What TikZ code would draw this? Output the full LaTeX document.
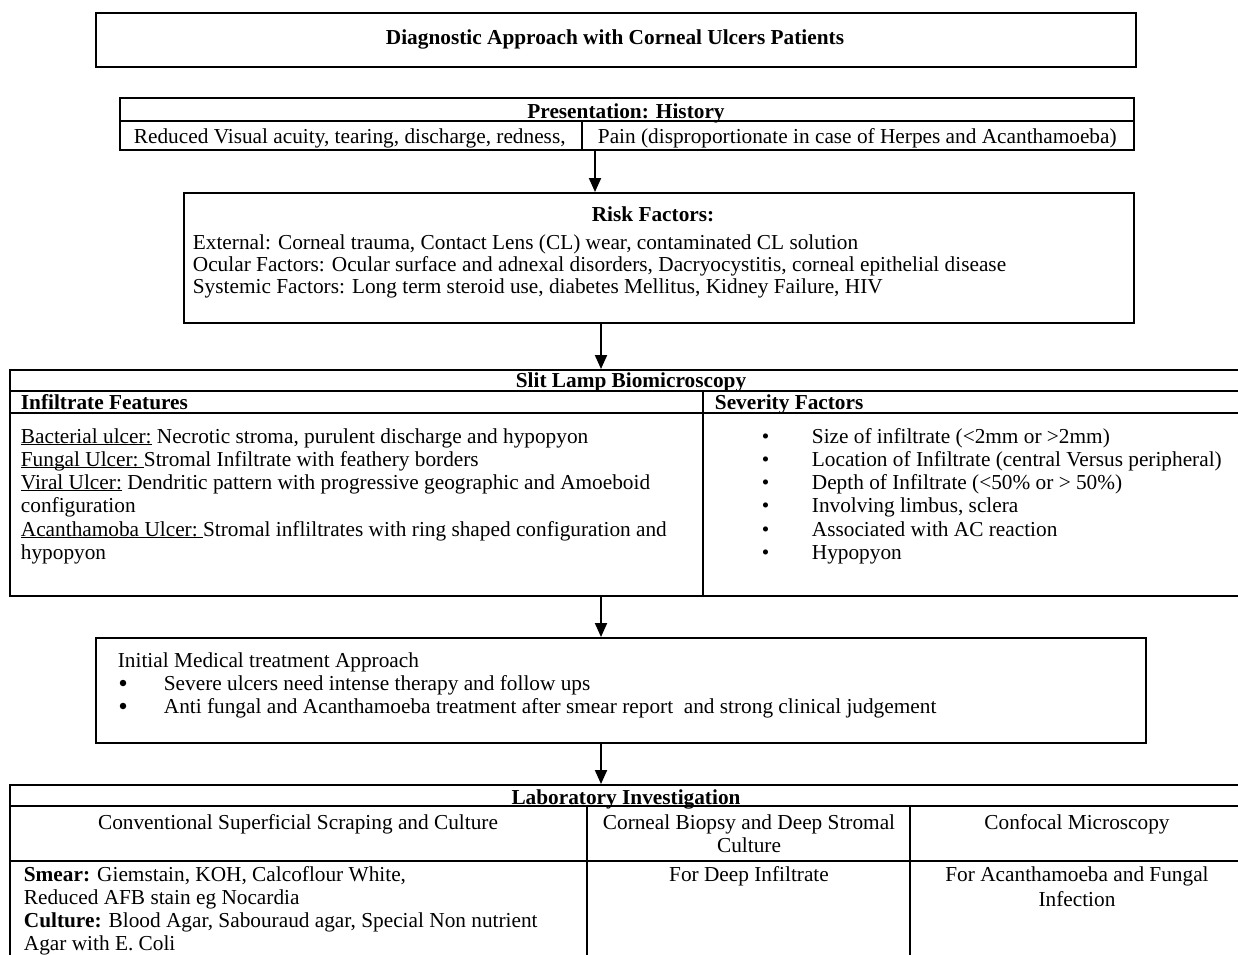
\documentclass[tikz,border=0pt]{standalone}
\usepackage{fontspec}
\setmainfont{Liberation Serif}
\usetikzlibrary{calc,positioning,arrows.meta}
\newcommand{\undl}[1]{\underline{\smash{#1}}}

\begin{document}
\begin{tikzpicture}[x=1pt,y=-1pt,line width=1.8pt,
    box/.style={draw,rectangle,inner sep=0pt,anchor=north west},
    tbl/.style={box,line width=2.4pt},
    lbl/.style={inner sep=0pt,anchor=base west,font=\fontsize{21.3}{23}\selectfont},
    ctr/.style={inner sep=0pt,anchor=base,font=\fontsize{21.3}{23}\selectfont},
    hd/.style={ctr,font=\fontsize{21.3}{23}\selectfont\bfseries},
    dot/.style={circle,fill,inner sep=0pt,minimum size=6.5pt},
    arr/.style={-{Triangle[length=14pt,width=12pt]},line width=2pt}]

  \useasboundingbox (0,0) rectangle (1238,954);

  % title
  \node[box,minimum width=1040,minimum height=54] (title) at (95,12) {};
  \node[hd] (titletxt) at (615,44) {Diagnostic Approach with Corneal Ulcers Patients};

  % presentation
  \node[tbl,minimum width=1014,minimum height=52] (pres) at (119,97) {};
  \draw ($(pres.north west)+(0,24)$) -- ($(pres.north east)+(0,24)$);
  \draw ($(pres.north west)+(463,24)$) -- ($(pres.south west)+(463,0)$);
  \node[hd] (prestitle) at (626,118) {Presentation: History};
  \node[lbl] (presleft) at (133,143) {Reduced Visual acuity, tearing, discharge, redness,};
  \node[lbl] (presright) at (597,143) {Pain (disproportionate in case of Herpes and Acanthamoeba)};

  % risk factors
  \node[box,minimum width=950,minimum height=130] (risk) at (183,192) {};
  \node[hd] (risktitle) at (653,221) {Risk Factors:};
  \node[lbl] (riskext) at (192,249) {External: Corneal trauma, Contact Lens (CL) wear, contaminated CL solution};
  \node[lbl] (riskocu) at (192,271) {Ocular Factors: Ocular surface and adnexal disorders, Dacryocystitis, corneal epithelial disease};
  \node[lbl] (risksys) at (192,293) {Systemic Factors: Long term steroid use, diabetes Mellitus, Kidney Failure, HIV};

  % slit lamp
  \node[tbl,minimum width=1240,minimum height=226] (slit) at (9,369) {};
  \draw ($(slit.north west)+(0,22)$) -- ($(slit.north east)+(0,22)$);
  \draw ($(slit.north west)+(0,44)$) -- ($(slit.north east)+(0,44)$);
  \draw ($(slit.north west)+(694,22)$) -- ($(slit.south west)+(694,0)$);
  \node[hd] (slittitle) at (631,387) {Slit Lamp Biomicroscopy};
  \node[lbl,font=\fontsize{21.3}{23}\selectfont\bfseries] (infhd) at (20,409) {Infiltrate Features};
  \node[lbl,font=\fontsize{21.3}{23}\selectfont\bfseries] (sevhd) at (714,409) {Severity Factors};

  \node[lbl] (bact) at (20,443) {\undl{Bacterial ulcer:} Necrotic stroma, purulent discharge and hypopyon};
  \node[lbl] (fung) at (20,466) {\undl{Fungal Ulcer:\ }Stromal Infiltrate with feathery borders};
  \node[lbl] (vir) at (20,489) {\undl{Viral Ulcer:} Dendritic pattern with progressive geographic and Amoeboid};
  \node[lbl] (virb) at (20,512) {configuration};
  \node[lbl] (acan) at (20,536) {\undl{Acanthamoba Ulcer:\ }Stromal infliltrates with ring shaped configuration and};
  \node[lbl] (acanb) at (20,559) {hypopyon};

  \node[lbl] (sevb1) at (761,443) {\textbullet};
  \node[lbl] (sev1) at (811,443) {Size of infiltrate (<2mm or >2mm)};
  \node[lbl] (sevb2) at (761,466) {\textbullet};
  \node[lbl] (sev2) at (811,466) {Location of Infiltrate (central Versus peripheral)};
  \node[lbl] (sevb3) at (761,489) {\textbullet};
  \node[lbl] (sev3) at (811,489) {Depth of Infiltrate (<50\% or > 50\%)};
  \node[lbl] (sevb4) at (761,512) {\textbullet};
  \node[lbl] (sev4) at (811,512) {Involving limbus, sclera};
  \node[lbl] (sevb5) at (761,536) {\textbullet};
  \node[lbl] (sev5) at (811,536) {Associated with AC reaction};
  \node[lbl] (sevb6) at (761,559) {\textbullet};
  \node[lbl] (sev6) at (811,559) {Hypopyon};

  % initial treatment
  \node[box,minimum width=1050,minimum height=105] (init) at (95,637) {};
  \node[lbl] (inithd) at (117,667) {Initial Medical treatment Approach};
  \node[dot] (initb1) at (123,683) {};
  \node[lbl] (init1) at (163,690) {Severe ulcers need intense therapy and follow ups};
  \node[dot] (initb2) at (123,706) {};
  \node[lbl] (init2) at (163,713) {Anti fungal and Acanthamoeba treatment after smear report~ and strong clinical judgement};

  % laboratory
  \node[tbl,minimum width=1240,minimum height=200] (lab) at (9,784) {};
  \draw ($(lab.north west)+(0,22)$) -- ($(lab.north east)+(0,22)$);
  \draw ($(lab.north west)+(0,77)$) -- ($(lab.north east)+(0,77)$);
  \draw ($(lab.north west)+(578,22)$) -- ($(lab.south west)+(578,0)$);
  \draw ($(lab.north west)+(901,22)$) -- ($(lab.south west)+(901,0)$);
  \node[hd] (labtitle) at (626,804) {Laboratory Investigation};
  \node[ctr] (convhd) at (298,829) {Conventional Superficial Scraping and Culture};
  \node[ctr] (biophd) at (749,829) {Corneal Biopsy and Deep Stromal};
  \node[ctr] (biophdb) at (749,852) {Culture};
  \node[ctr] (confhd) at (1077,829) {Confocal Microscopy};
  \node[lbl] (smear) at (23,881) {\textbf{Smear:} Giemstain, KOH, Calcoflour White,};
  \node[lbl] (smearb) at (23,904) {Reduced AFB stain eg Nocardia};
  \node[lbl] (cult) at (23,927) {\textbf{Culture:} Blood Agar, Sabouraud agar, Special Non nutrient};
  \node[lbl] (cultb) at (23,950) {Agar with E. Coli};
  \node[ctr] (deep) at (749,881) {For Deep Infiltrate};
  \node[ctr] (conf) at (1077,881) {For Acanthamoeba and Fungal};
  \node[ctr] (confb) at (1077,906) {Infection};

  % arrows
  \draw[arr] ($(pres.south west)+(476,0)$) -- ($(risk.north west)+(412,0)$);
  \draw[arr] ($(risk.south west)+(418,0)$) -- ($(slit.north west)+(592,0)$);
  \draw[arr] ($(slit.south west)+(592,0)$) -- ($(init.north west)+(506,0)$);
  \draw[arr] ($(init.south west)+(506,0)$) -- ($(lab.north west)+(592,0)$);

\end{tikzpicture}
\end{document}
